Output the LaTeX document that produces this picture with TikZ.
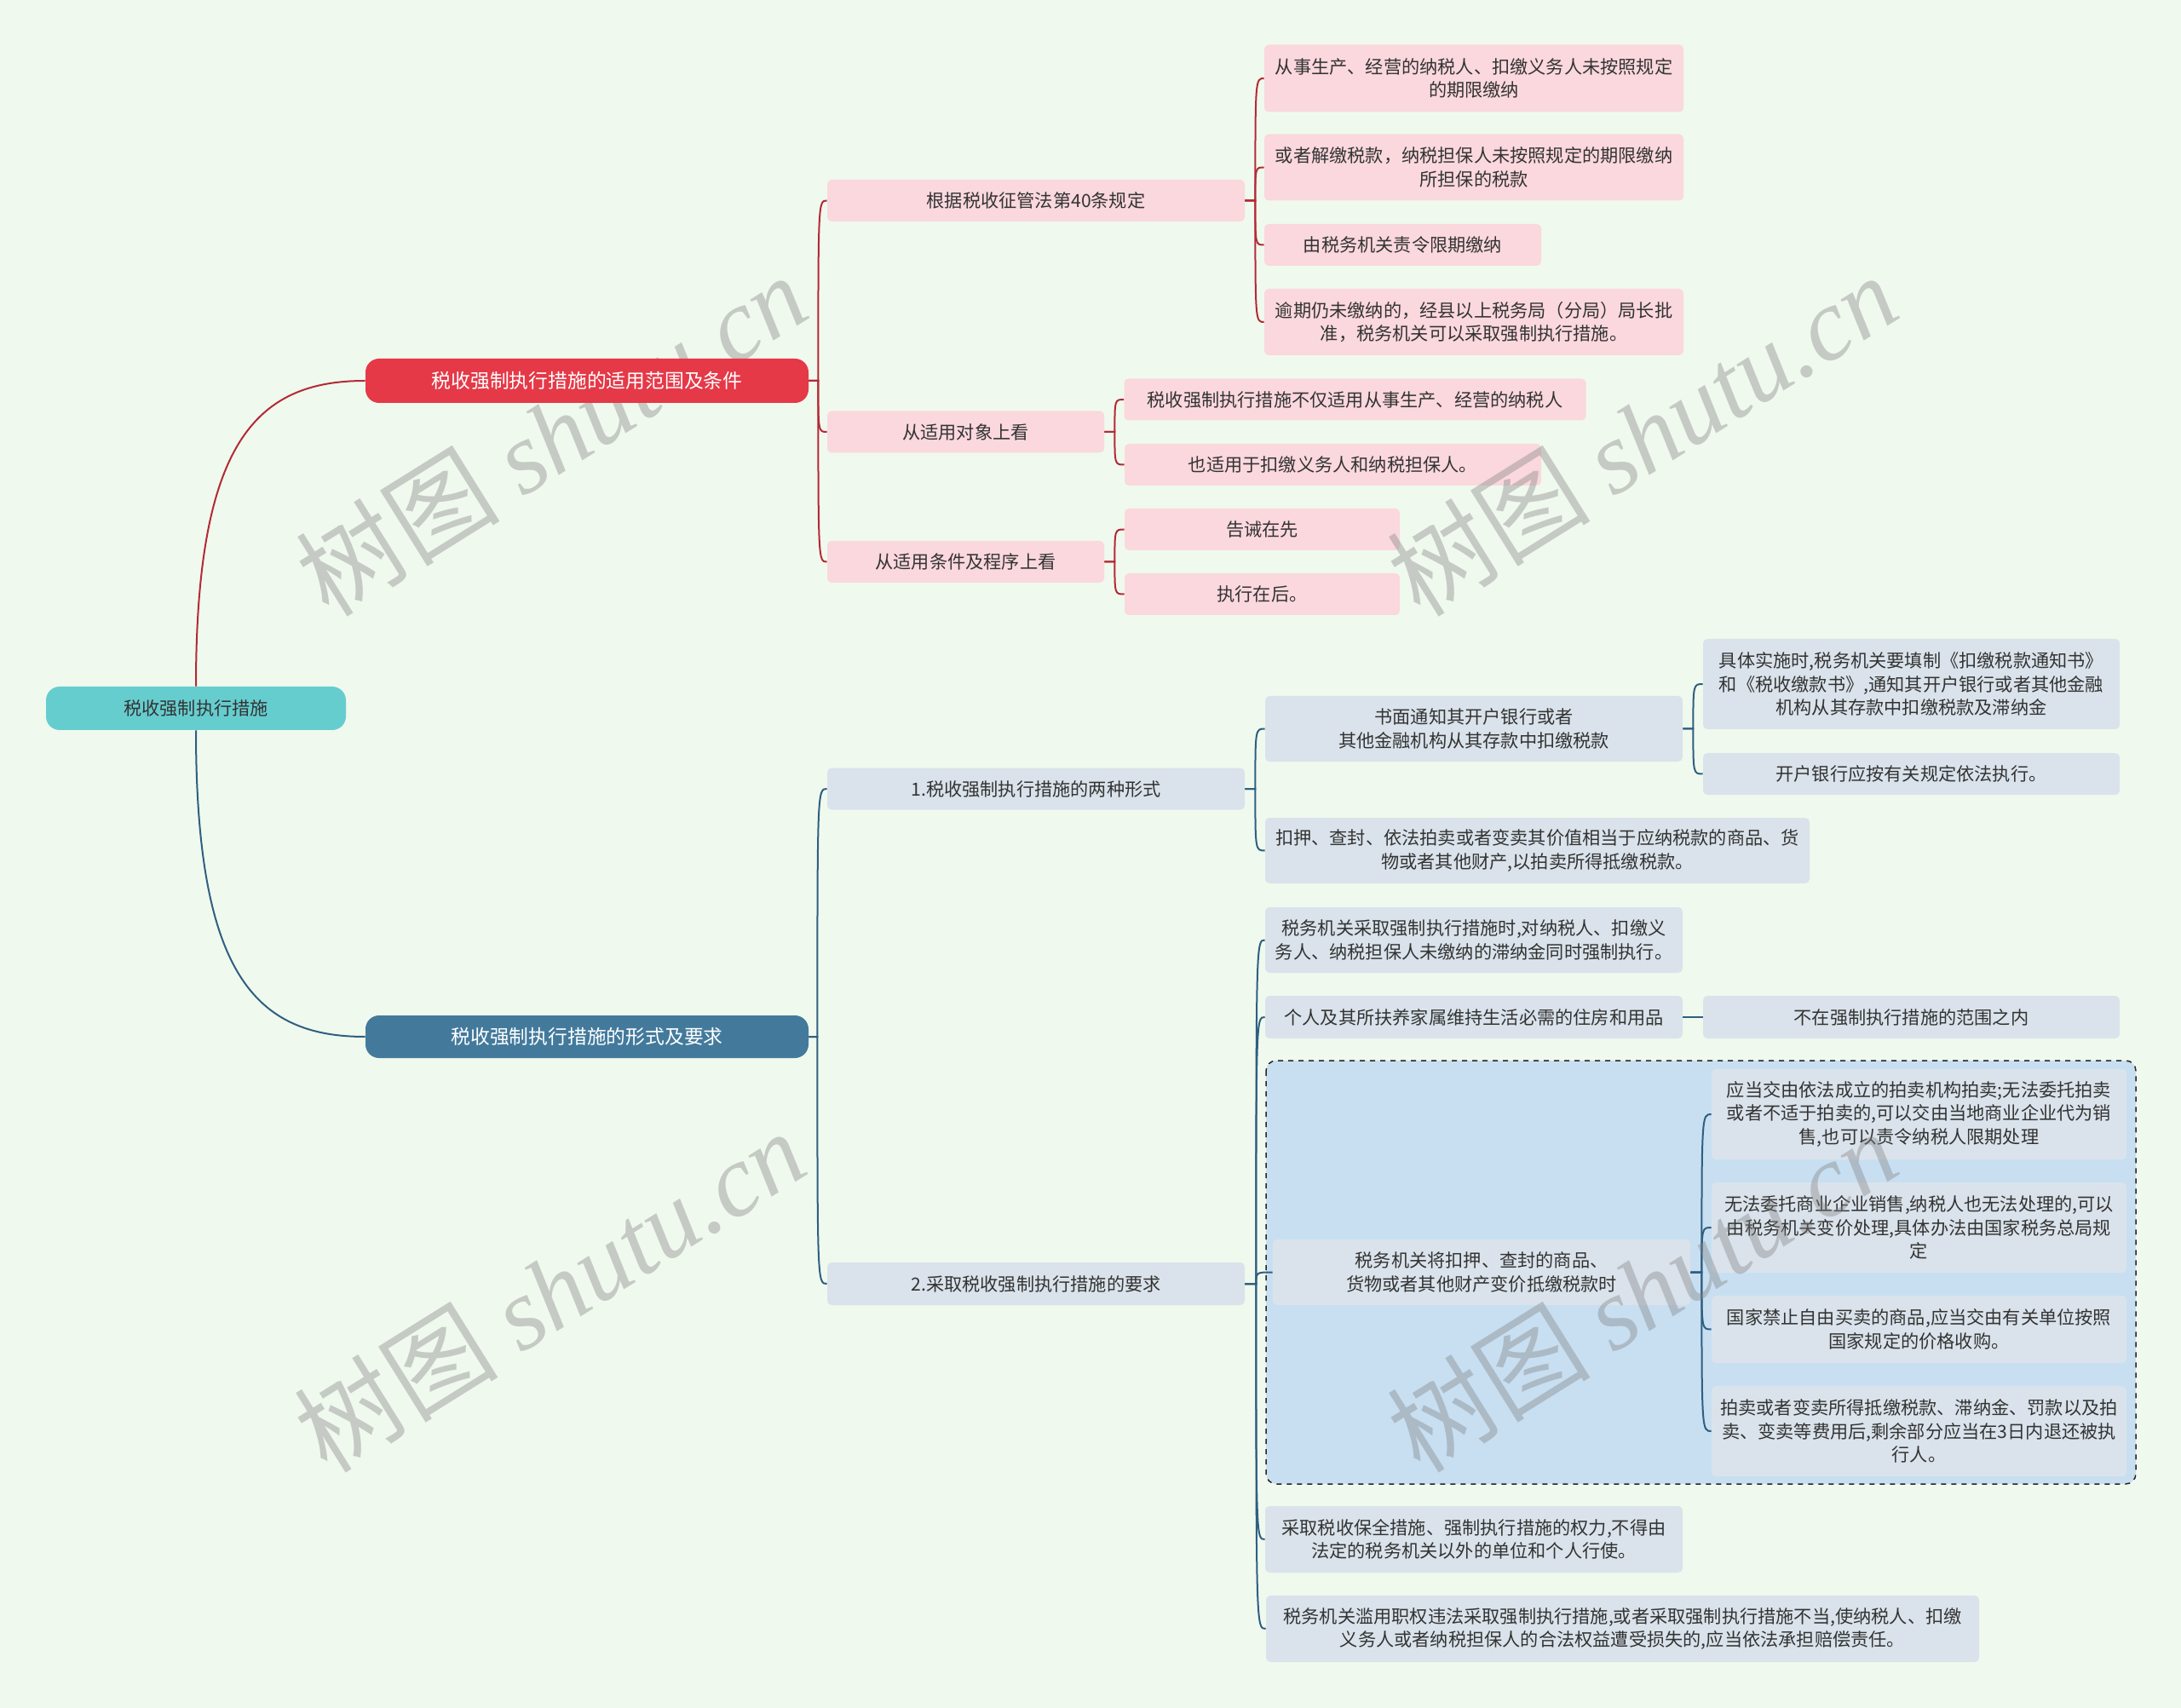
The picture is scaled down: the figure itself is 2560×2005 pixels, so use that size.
\documentclass[tikz,border=0pt]{standalone}
\usepackage{fontspec}
\setmainfont{Noto Sans CJK SC}
\newfontfamily\wmcjk{Noto Sans CJK SC}
\newfontfamily\wmlat{Liberation Serif}
\definecolor{bgc}{HTML}{F0F9EE}
\definecolor{rootc}{HTML}{66CDCF}
\definecolor{redc}{HTML}{E53948}
\definecolor{bluec}{HTML}{437A9C}
\definecolor{pinkc}{HTML}{FAD8DD}
\definecolor{greyc}{HTML}{DAE3EB}
\definecolor{groupc}{HTML}{C8DFF2}
\definecolor{redline}{HTML}{B32A35}
\definecolor{blueline}{HTML}{2F5F80}
\definecolor{txt}{HTML}{333333}
\newcommand{\mmlink}[4]{%
  \draw[#1] (#2.east) -- ++(#4,0) coordinate (tmp)
    .. controls (tmp |- #3.west) and (tmp |- #3.west) .. (#3.west);}
\tikzset{
  box/.style={rectangle, rounded corners=2.5pt, inner sep=0pt, align=center,
    font=\fontsize{10.6}{13.8}\selectfont, text=txt},
  pinkbox/.style={box, fill=pinkc},
  greybox/.style={box, fill=greyc},
  mainbox/.style={rectangle, rounded corners=8pt, inner sep=0pt, align=center,
    font=\fontsize{11.4}{14}\selectfont},
  rl/.style={draw=redline, line width=1pt},
  bl/.style={draw=blueline, line width=1pt},
  wm/.style={rotate=32, text=gray, opacity=0.38, font=\fontsize{60}{60}\selectfont}
}
\begin{document}
\begin{tikzpicture}[x=0.5pt,y=-0.5pt]
\useasboundingbox (0,0) rectangle (2560,2005);
\fill[bgc] (0,0) rectangle (2560,2005);

% watermark lying under the red branch
\node[wm] (wm1) at (647,510) {\wmcjk 树图 \wmlat\itshape shutu.cn};

% main nodes
\node[mainbox, fill=rootc, text=txt, font=\fontsize{10.6}{13}\selectfont, minimum width=176pt, minimum height=25.5pt] (root) at (230,831.5) {税收强制执行措施};
\node[mainbox, fill=redc, text=white, minimum width=260pt, minimum height=26pt] (b1) at (689,447) {税收强制执行措施的适用范围及条件};
\node[mainbox, fill=bluec, text=white, minimum width=260pt, minimum height=25pt] (b2) at (689,1217) {税收强制执行措施的形式及要求};

% branch 1
\node[pinkbox, minimum width=245pt, minimum height=24.5pt] (a0) at (1216,235.5) {根据税收征管法第40条规定};
\node[pinkbox, minimum width=162.5pt, minimum height=24.5pt] (a) at (1133.5,507) {从适用对象上看};
\node[pinkbox, minimum width=162.5pt, minimum height=24.5pt] (c) at (1133.5,659.5) {从适用条件及程序上看};

\node[pinkbox, minimum width=246pt, minimum height=39.5pt] (A1) at (1730,92) {从事生产、经营的纳税人、扣缴义务人未按照规定\\的期限缴纳};
\node[pinkbox, minimum width=246pt, minimum height=39pt] (A2) at (1730,196.5) {或者解缴税款，纳税担保人未按照规定的期限缴纳\\所担保的税款};
\node[pinkbox, minimum width=162.5pt, minimum height=24.5pt] (A3) at (1646.5,287.5) {由税务机关责令限期缴纳};
\node[pinkbox, minimum width=246pt, minimum height=39pt] (A4) at (1730,378) {逾期仍未缴纳的，经县以上税务局（分局）局长批\\准，税务机关可以采取强制执行措施。};

\node[pinkbox, minimum width=271pt, minimum height=24.5pt] (B1) at (1590.5,469) {税收强制执行措施不仅适用从事生产、经营的纳税人};
\node[pinkbox, minimum width=244.5pt, minimum height=24.5pt] (B2) at (1564.5,545.5) {也适用于扣缴义务人和纳税担保人。};
\node[pinkbox, minimum width=161.5pt, minimum height=24.5pt] (C1) at (1481.5,621.5) {告诫在先};
\node[pinkbox, minimum width=161.5pt, minimum height=24.5pt] (C2) at (1481.5,697.5) {执行在后。};

% branch 2
\node[greybox, minimum width=245pt, minimum height=24.5pt] (D) at (1216,926) {1.税收强制执行措施的两种形式};
\node[greybox, minimum width=245pt, minimum height=25pt] (E) at (1216,1507) {2.采取税收强制执行措施的要求};

\node[greybox, minimum width=245pt, minimum height=38.5pt] (D1) at (1730,855.5) {书面通知其开户银行或者\\其他金融机构从其存款中扣缴税款};
\node[greybox, minimum width=244.5pt, minimum height=53pt] (D1a) at (2243.5,803) {具体实施时,税务机关要填制《扣缴税款通知书》\\和《税收缴款书》,通知其开户银行或者其他金融\\机构从其存款中扣缴税款及滞纳金};
\node[greybox, minimum width=244.5pt, minimum height=24.5pt] (D1b) at (2243.5,908.5) {开户银行应按有关规定依法执行。};
\node[greybox, minimum width=319.5pt, minimum height=38.5pt] (D2) at (1804.5,998.5) {扣押、查封、依法拍卖或者变卖其价值相当于应纳税款的商品、货\\物或者其他财产,以拍卖所得抵缴税款。};

\node[greybox, minimum width=245pt, minimum height=38.5pt] (E1) at (1730,1103.5) {税务机关采取强制执行措施时,对纳税人、扣缴义\\务人、纳税担保人未缴纳的滞纳金同时强制执行。};
\node[greybox, minimum width=245pt, minimum height=25pt] (E2) at (1730,1194) {个人及其所扶养家属维持生活必需的住房和用品};
\node[greybox, minimum width=244.5pt, minimum height=25pt] (E2a) at (2243.5,1194) {不在强制执行措施的范围之内};

\draw[fill=groupc, draw=black!85, dashed, line width=0.75pt, rounded corners=6pt] (1486,1245) rectangle (2507,1742);

\node[greybox, minimum width=245pt, minimum height=38.5pt] (E3) at (1739,1493.5) {税务机关将扣押、查封的商品、\\货物或者其他财产变价抵缴税款时};
\node[greybox, minimum width=243.5pt, minimum height=53pt] (E3a) at (2252.5,1308) {应当交由依法成立的拍卖机构拍卖;无法委托拍卖\\或者不适于拍卖的,可以交由当地商业企业代为销\\售,也可以责令纳税人限期处理};
\node[greybox, minimum width=243.5pt, minimum height=53pt] (E3b) at (2252.5,1441) {无法委托商业企业销售,纳税人也无法处理的,可以\\由税务机关变价处理,具体办法由国家税务总局规\\定};
\node[greybox, minimum width=243.5pt, minimum height=39.5pt] (E3c) at (2252.5,1560.5) {国家禁止自由买卖的商品,应当交由有关单位按照\\国家规定的价格收购。};
\node[greybox, minimum width=243.5pt, minimum height=53pt] (E3d) at (2252.5,1680) {拍卖或者变卖所得抵缴税款、滞纳金、罚款以及拍\\卖、变卖等费用后,剩余部分应当在3日内退还被执\\行人。};

\node[greybox, minimum width=245pt, minimum height=39pt] (E4) at (1730,1807) {采取税收保全措施、强制执行措施的权力,不得由\\法定的税务机关以外的单位和个人行使。};
\node[greybox, minimum width=418.5pt, minimum height=39pt] (E5) at (1904.5,1912) {税务机关滥用职权违法采取强制执行措施,或者采取强制执行措施不当,使纳税人、扣缴\\义务人或者纳税担保人的合法权益遭受损失的,应当依法承担赔偿责任。};

% connectors: root to branches
\draw[rl] (root.north) .. controls (230,520) and (300,447) .. (b1.west);
\draw[bl] (root.south) .. controls (230,1144) and (300,1217) .. (b2.west);

% branch 1 connectors
\mmlink{rl}{b1}{a0}{11}
\mmlink{rl}{b1}{a}{11}
\mmlink{rl}{b1}{c}{11}
\mmlink{rl}{a0}{A1}{12}
\mmlink{rl}{a0}{A2}{12}
\mmlink{rl}{a0}{A3}{12}
\mmlink{rl}{a0}{A4}{12}
\mmlink{rl}{a}{B1}{12}
\mmlink{rl}{a}{B2}{12}
\mmlink{rl}{c}{C1}{12}
\mmlink{rl}{c}{C2}{12}

% branch 2 connectors
\mmlink{bl}{b2}{D}{10}
\mmlink{bl}{b2}{E}{10}
\mmlink{bl}{D}{D1}{12}
\mmlink{bl}{D}{D2}{12}
\mmlink{bl}{D1}{D1a}{12}
\mmlink{bl}{D1}{D1b}{12}
\mmlink{bl}{E}{E1}{13}
\mmlink{bl}{E}{E2}{13}
\mmlink{bl}{E}{E3}{13}
\mmlink{bl}{E}{E4}{13}
\mmlink{bl}{E}{E5}{13}
\draw[bl] (E2.east) -- (E2a.west);
\mmlink{bl}{E3}{E3a}{13}
\mmlink{bl}{E3}{E3b}{13}
\mmlink{bl}{E3}{E3c}{13}
\mmlink{bl}{E3}{E3d}{13}

% watermarks
\node[wm] (wm2) at (1927,510) {\wmcjk 树图 \wmlat\itshape shutu.cn};
\node[wm] (wm3) at (645,1515) {\wmcjk 树图 \wmlat\itshape shutu.cn};
\node[wm] (wm4) at (1927,1515) {\wmcjk 树图 \wmlat\itshape shutu.cn};
\end{tikzpicture}
\end{document}
